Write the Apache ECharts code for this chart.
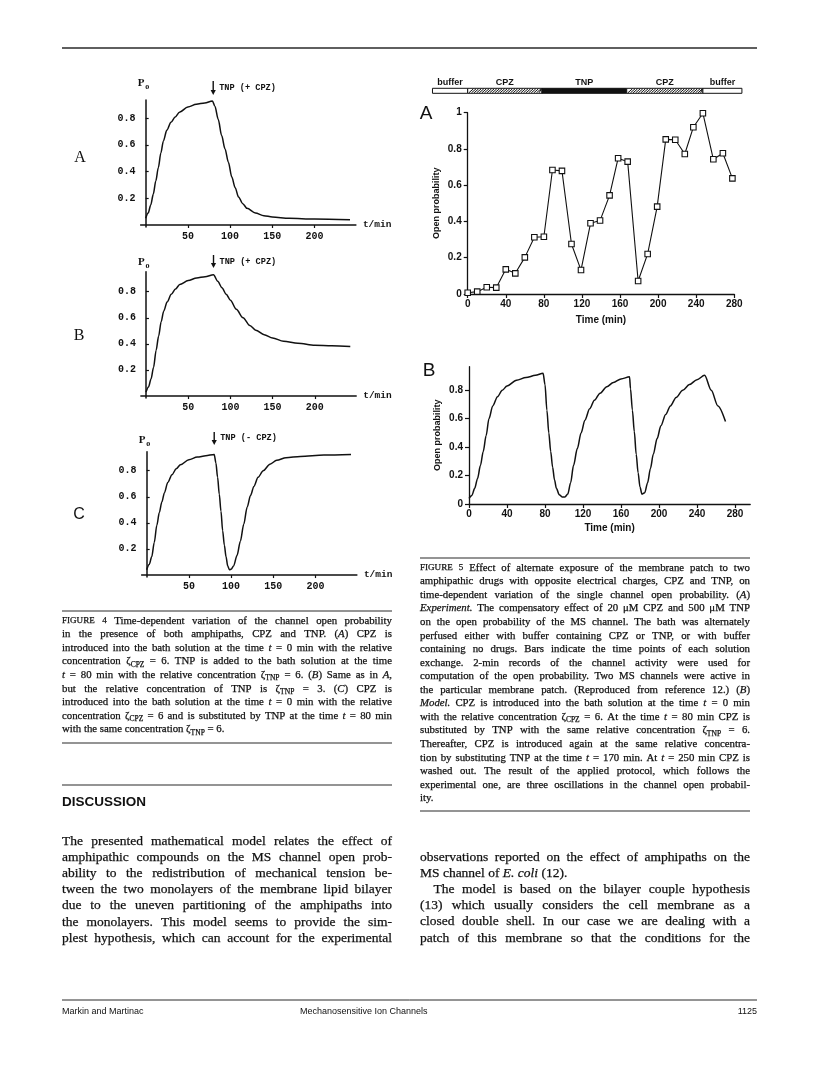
<!DOCTYPE html>
<html><head><meta charset="utf-8">
<script src="https://cdn.jsdelivr.net/npm/echarts@6/dist/echarts.min.js"></script>
<style>html,body{margin:0;padding:0;background:#fff}#c{width:816px;height:1066px}</style>
</head><body><div id="c"></div>
<script>
// ---------------- DATA ----------------
// Figure 4 (model, t in min, open probability)
const fig4A_t = [0,3,6,9,12,15,18,21,25,30,35,40,50,60,70,79,82,86,90,94,98,102,106,110,115,120,130,140,150,170,200,242];
const fig4A_p = [0.05,0.09,0.15,0.23,0.33,0.43,0.54,0.63,0.71,0.77,0.81,0.845,0.885,0.905,0.915,0.93,0.89,0.79,0.67,0.57,0.47,0.36,0.28,0.21,0.16,0.125,0.09,0.07,0.06,0.05,0.045,0.04];
const fig4B_t = [0,3,6,9,12,15,18,21,25,30,35,40,50,60,70,80,85,90,95,100,107,115,123,130,140,150,163,180,200,220,242];
const fig4B_p = [0.03,0.07,0.13,0.22,0.35,0.46,0.57,0.65,0.72,0.78,0.82,0.855,0.885,0.905,0.915,0.93,0.88,0.83,0.78,0.735,0.665,0.6,0.54,0.505,0.47,0.445,0.42,0.405,0.39,0.385,0.38];
const fig4C_t = [0,3,6,9,12,15,18,21,25,30,35,40,50,60,70,80,82,84,86,88,90,92,94,96,98,100,103,107,111,115,119,123,127,132,138,146,154,165,182,210,242];
const fig4C_p = [0.04,0.08,0.14,0.25,0.38,0.48,0.56,0.63,0.71,0.77,0.815,0.845,0.885,0.905,0.915,0.925,0.86,0.75,0.62,0.49,0.34,0.23,0.14,0.07,0.04,0.045,0.07,0.15,0.26,0.39,0.52,0.61,0.68,0.75,0.80,0.85,0.88,0.90,0.91,0.92,0.925];
const fig4XTicks = [50,100,150,200];
const fig4YTicks = [0.2,0.4,0.6,0.8];
const fig4Arrows = ['TNP (+ CPZ)','TNP (+ CPZ)','TNP (- CPZ)'];
const fig4ArrowT = 80;

// Figure 5A (experiment)
const fig5A_t = [0,10,20,30,40,50,60,70,80,89,99,109,119,129,139,149,158,168,179,189,199,208,218,228,237,247,258,268,278];
const fig5A_p = [0.007,0.013,0.037,0.035,0.136,0.114,0.202,0.313,0.316,0.684,0.679,0.276,0.132,0.39,0.405,0.544,0.749,0.73,0.072,0.221,0.482,0.853,0.851,0.772,0.92,0.997,0.743,0.776,0.638];
// Figure 5B (model)
const fig5B_t = [0,3,6,9,12,15,18,21,25,30,35,40,50,60,70,78,80,82,84,86,88,90,92,95,98,101,104,107,110,114,118,122,127,132,138,145,152,160,169,170,172,174,176,178,180,182,185,188,191,194,198,202,207,212,218,225,232,240,248,255,262,270];
const fig5B_p = [0.04,0.06,0.11,0.18,0.27,0.37,0.48,0.60,0.69,0.755,0.80,0.83,0.87,0.89,0.905,0.92,0.84,0.66,0.50,0.37,0.26,0.17,0.11,0.065,0.05,0.05,0.07,0.15,0.27,0.39,0.5,0.59,0.67,0.73,0.78,0.825,0.855,0.88,0.895,0.81,0.66,0.51,0.35,0.22,0.12,0.07,0.08,0.15,0.25,0.35,0.46,0.55,0.63,0.69,0.75,0.80,0.84,0.875,0.905,0.80,0.69,0.58];
const fig5XTicks = [0,40,80,120,160,200,240,280];
const fig5AYTicks = [0,0.2,0.4,0.6,0.8,1];
const fig5BYTicks = [0,0.2,0.4,0.6,0.8];
// perfusion bar (time in min)
const barStart = [-37,0,78,167,247];
const barEnd   = [0,78,167,247,288];
const barKind  = [0,1,2,1,0];   // 0 buffer, 1 CPZ (hatched), 2 TNP (black)
const barLabels = ['buffer','CPZ','TNP','CPZ','buffer'];

// ---------------- TEXT ----------------
const cap4 = [
 '_c{FIGURE 4}  Time-dependent variation of the channel open probability',
 'in the presence of both amphipaths, CPZ and TNP. (_i{A}) CPZ is',
 'introduced into the bath solution at the time _i{t} = 0 min with the relative',
 'concentration ζ_s{CPZ} = 6. TNP is added to the bath solution at the time',
 '_i{t} = 80 min with the relative concentration ζ_s{TNP} = 6. (_i{B}) Same as in _i{A},',
 'but the relative concentration of TNP is ζ_s{TNP} = 3. (_i{C}) CPZ is',
 'introduced into the bath solution at the time _i{t} = 0 min with the relative',
 'concentration ζ_s{CPZ} = 6 and is substituted by TNP at the time _i{t} = 80 min',
 'with the same concentration ζ_s{TNP} = 6.$'
];
const cap5 = [
 '_c{FIGURE 5}  Effect of alternate exposure of the membrane patch to two',
 'amphipathic drugs with opposite electrical charges, CPZ and TNP, on',
 'time-dependent variation of the single channel open probability. (_i{A})',
 '_i{Experiment.} The compensatory effect of 20 μM CPZ and 500 μM TNP',
 'on the open probability of the MS channel. The bath was alternately',
 'perfused either with buffer containing CPZ or TNP, or with buffer',
 'containing no drugs. Bars indicate the time points of each solution',
 'exchange. 2-min records of the channel activity were used for',
 'computation of the open probability. Two MS channels were active in',
 'the particular membrane patch. (Reproduced from reference 12.) (_i{B})',
 '_i{Model.} CPZ is introduced into the bath solution at the time _i{t} = 0 min',
 'with the relative concentration ζ_s{CPZ} = 6. At the time _i{t} = 80 min CPZ is',
 'substituted by TNP with the same relative concentration ζ_s{TNP} = 6.',
 'Thereafter, CPZ is introduced again at the same relative concentra-',
 'tion by substituting TNP at the time _i{t} = 170 min. At _i{t} = 250 min CPZ is',
 'washed out. The result of the applied protocol, which follows the',
 'experimental one, are three oscillations in the channel open probabil-',
 'ity.$'
];
const bodyL = [
 'The presented mathematical model relates the effect of',
 'amphipathic compounds on the MS channel open prob-',
 'ability to the redistribution of mechanical tension be-',
 'tween the two monolayers of the membrane lipid bilayer',
 'due to the uneven partitioning of the amphipaths into',
 'the monolayers. This model seems to provide the sim-',
 'plest hypothesis, which can account for the experimental'
];
const bodyR = [
 'observations reported on the effect of amphipaths on the',
 'MS channel of _i{E. coli} (12).$',
 '  The model is based on the bilayer couple hypothesis',
 '(13) which usually considers the cell membrane as a',
 'closed double shell. In our case we are dealing with a',
 'patch of this membrane so that the conditions for the'
];

// ---------------- STYLE / LAYOUT ----------------
const INK = '#111';
const SERIF = "'Liberation Serif','Times New Roman',serif";
const SANS = "'Liberation Sans',Arial,sans-serif";
const MONO = "'Liberation Mono','Courier New',monospace";
const pairs = (t,p) => t.map((v,i)=>[v,p[i]]);

const chart = echarts.init(document.getElementById('c'), null, {renderer:'canvas', width:816, height:1066});

const f4grids = [
  {left:140.6, top:100, width:215.3, height:127, ymax:0.937},
  {left:140.9, top:271.7, width:215.3, height:126.3, ymax:0.953},
  {left:141.6, top:451.7, width:215.3, height:125.3, ymax:0.946}
];
const monoLab = {fontFamily:MONO, fontWeight:'bold', fontSize:10, color:INK};
const sansLab = {fontFamily:SANS, fontWeight:'bold', fontSize:10, color:INK};
const axLine = {show:true, onZero:true, lineStyle:{color:INK, width:1.5}};

const grids = [], xAxes = [], yAxes = [];
f4grids.forEach((g,i)=>{
  grids.push({left:g.left, top:g.top, width:g.width, height:g.height, containLabel:false, outerBoundsMode:'none'});
  xAxes.push({type:'value', gridIndex:i, min:-6, max:249, axisLine:axLine,
    axisTick:{show:true, customValues:fig4XTicks, length:3, lineStyle:{color:INK,width:1.2}},
    axisLabel:Object.assign({customValues:fig4XTicks, margin:4}, monoLab),
    splitLine:{show:false},
    name:'t/min', nameLocation:'end', nameGap:7, nameTextStyle:{fontFamily:MONO, fontWeight:'bold', fontSize:9.5, color:INK}});
  yAxes.push({type:'value', gridIndex:i, min:-0.015, max:g.ymax, axisLine:axLine,
    axisTick:{show:true, inside:true, customValues:fig4YTicks, length:3, lineStyle:{color:INK,width:1.2}},
    axisLabel:Object.assign({customValues:fig4YTicks, margin:5, formatter:v=>v.toFixed(1)}, monoLab),
    splitLine:{show:false}});
});
// bar grid (index 3)
grids.push({left:467.7, top:88.3, width:266.6, height:5, containLabel:false, outerBoundsMode:'none'});
xAxes.push({type:'value', gridIndex:3, min:0, max:280, show:false});
yAxes.push({type:'value', gridIndex:3, min:0, max:1, show:false});
// fig5A (index 4)
const f5x = (gi,max)=>({type:'value', gridIndex:gi, min:0, max:max,
  axisLine:{show:true, onZero:false, lineStyle:{color:INK,width:1.3}},
  axisTick:{show:true, customValues:fig5XTicks, length:4, lineStyle:{color:INK,width:1.2}},
  axisLabel:Object.assign({customValues:fig5XTicks, margin:5}, sansLab),
  splitLine:{show:false},
  name:'Time (min)', nameLocation:'middle', nameGap:21, nameTextStyle:{fontFamily:SANS, fontWeight:'bold', fontSize:10, color:INK}});
const f5y = (gi,max,ticks)=>({type:'value', gridIndex:gi, min:0, max:max,
  axisLine:{show:true, onZero:false, lineStyle:{color:INK,width:1.3}},
  axisTick:{show:true, customValues:ticks, length:4, lineStyle:{color:INK,width:1.2}},
  axisLabel:Object.assign({customValues:ticks, margin:6, formatter:v=>(v===0?'0':(v===1?'1':v.toFixed(1)))}, sansLab),
  splitLine:{show:false},
  name:'Open probability', nameLocation:'middle', nameRotate:90, nameGap:27, nameTextStyle:{fontFamily:SANS, fontWeight:'bold', fontSize:9, color:INK}});
grids.push({left:467.7, top:112.7, width:266.6, height:181.3, containLabel:false, outerBoundsMode:'none'});
xAxes.push(f5x(4,280)); yAxes.push(f5y(4,1,fig5AYTicks));
// fig5B (index 5)
grids.push({left:469, top:366.7, width:281.2, height:137.3, containLabel:false, outerBoundsMode:'none'});
const x5b = f5x(5,296); x5b.nameGap = 19;
xAxes.push(x5b); yAxes.push(f5y(5,0.966,fig5BYTicks));

const lineS = (gi,data)=>({type:'line', xAxisIndex:gi, yAxisIndex:gi, data, showSymbol:false, smooth:0.3, smoothMonotone:'x',
  lineStyle:{color:INK, width:1.5}, silent:true});

const series = [
  lineS(0, pairs(fig4A_t, fig4A_p)),
  lineS(1, pairs(fig4B_t, fig4B_p)),
  lineS(2, pairs(fig4C_t, fig4C_p)),
  {type:'custom', xAxisIndex:3, yAxisIndex:3, clip:false, silent:true,
   data: barStart.map((s,i)=>[s, barEnd[i], barKind[i]]),
   renderItem: function(params, api){
     const s = api.value(0), e = api.value(1), k = api.value(2);
     const p0 = api.coord([s,1]), p1 = api.coord([e,0]);
     const x0=p0[0], y0=p0[1], x1=p1[0], y1=p1[1], h=y1-y0;
     const ch = [{type:'rect', shape:{x:x0,y:y0,width:x1-x0,height:h},
       style:{fill:k===2?INK:'#fff', stroke:INK, lineWidth:1}}];
     if(k===1){
       for(let x=x0+1.2; x<x1-1; x+=2.6){
         const xe = Math.min(x+h*0.9, x1-0.5);
         ch.push({type:'line', shape:{x1:x, y1:y1-0.5, x2:xe, y2:y0+0.5}, style:{stroke:INK, lineWidth:1}});
       }
     }
     ch.push({type:'text', style:{text:barLabels[params.dataIndex], x:(x0+x1)/2, y:y0-1.5,
       align:'center', textAlign:'center', verticalAlign:'bottom', textVerticalAlign:'bottom',
       font:"bold 9px "+SANS, fill:INK}});
     return {type:'group', children:ch};
   }},
  {type:'line', xAxisIndex:4, yAxisIndex:4, data:pairs(fig5A_t, fig5A_p), symbol:'rect', symbolSize:5.5, showSymbol:true,
   itemStyle:{color:'#fff', borderColor:INK, borderWidth:1.1}, lineStyle:{color:INK, width:1.1}, silent:true, z:3},
  lineS(5, pairs(fig5B_t, fig5B_p))
];

chart.setOption({animation:false, backgroundColor:'#fff', grid:grids, xAxis:xAxes, yAxis:yAxes, series});

// ---------------- PAGE TEXT (graphic) ----------------
const mctx = document.createElement('canvas').getContext('2d');
function tw(t,f){ mctx.font=f; return mctx.measureText(t).width; }
function parseRuns(s){ const out=[]; const re=/_([isc])\{([^}]*)\}/g; let last=0,m;
  while((m=re.exec(s))){ if(m.index>last) out.push({t:s.slice(last,m.index),k:'n'}); out.push({t:m[2],k:m[1]}); last=re.lastIndex; }
  if(last<s.length) out.push({t:s.slice(last),k:'n'}); return out; }
function pieceFont(k,size){
  if(k==='i') return `italic normal ${size}px ${SERIF}`;
  if(k==='s') return `normal normal ${(size*0.7).toFixed(2)}px ${SERIF}`;
  if(k==='c') return `normal normal ${(size*0.84).toFixed(2)}px ${SERIF}`;
  return `normal normal ${size}px ${SERIF}`;
}
function T(x,y,text,font,align,va,extra){
  return Object.assign({type:'text', x, y, silent:true, style:{text, font, fill:INK,
    align:align||'left', textAlign:align||'left', verticalAlign:va||'middle', textVerticalAlign:va||'middle'}}, extra||{});
}
function block(lines, x, y0, lh, width, size, els){
  lines.forEach((raw,li)=>{
    let s=raw, just=true, indent=0;
    if(s.endsWith('$')){ just=false; s=s.slice(0,-1); }
    const m=s.match(/^ +/); if(m){ indent=size*1.0; s=s.slice(m[0].length); }
    const words=[]; let cur=[];
    parseRuns(s).forEach(r=>{ r.t.split(' ').forEach((p,pi)=>{ if(pi>0){ if(cur.length) words.push(cur); cur=[]; } if(p) cur.push({t:p,k:r.k}); }); });
    if(cur.length) words.push(cur);
    words.forEach(w=>{ w.forEach(p=>{ p.f=pieceFont(p.k,size); p.w=tw(p.t,p.f); }); w.w=w.reduce((a,p)=>a+p.w,0); });
    const total=words.reduce((a,w)=>a+w.w,0), n=words.length, avail=width-indent;
    const sp=tw(' ',pieceFont('n',size));
    let gap=sp, sx=1;
    if(just && n>1){ gap=(avail-total)/(n-1); if(gap<sp*0.5){ gap=sp*0.5; sx=(avail-gap*(n-1))/total; } }
    else if(total+sp*(n-1)>avail){ sx=(avail-sp*(n-1))/total; }
    let cx=x+indent; const y=y0+li*lh;
    words.forEach(w=>{ w.forEach(p=>{
      els.push({type:'text', x:cx, y:y+(p.k==='s'?size*0.3:0), scaleX:sx, silent:true,
        style:{text:p.t, font:p.f, fill:INK, stroke:INK, lineWidth:0.25, align:'left', textAlign:'left', verticalAlign:'middle', textVerticalAlign:'middle'}});
      cx+=p.w*sx; }); cx+=gap; });
  });
}
function rule(x1,x2,y,w){ return {type:'line', silent:true, shape:{x1,y1:y,x2,y2:y}, style:{stroke:'#2a2a2a', lineWidth:w||1}}; }

const els = [];
els.push(rule(62,757,48,1.4));
const f4letters = [['A',80,158,SERIF],['B',79,336,SERIF],['C',79,515,SANS]];
f4letters.forEach(l=>els.push(T(l[1],l[2],l[0],`normal 16px ${l[3]}`,'center')));
const f4ann = [{po:83, a0:81, a1:95, ty:88},{po:262, a0:255, a1:268, ty:262},{po:440, a0:432, a1:445, ty:438}];
f4ann.forEach((a,i)=>{
  const ax = chart.convertToPixel({gridIndex:i}, [fig4ArrowT, 0])[0];
  const x0 = chart.convertToPixel({gridIndex:i}, [0, 0])[0];
  els.push(T(x0-8, a.po, 'P', `bold 11px ${SERIF}`, 'left'));
  els.push(T(x0-0.5, a.po+3.5, 'o', `bold 8px ${SERIF}`, 'left'));
  els.push({type:'line', silent:true, shape:{x1:ax,y1:a.a0,x2:ax,y2:a.a1-3}, style:{stroke:INK, lineWidth:1.4}});
  els.push({type:'polygon', silent:true, shape:{points:[[ax-2.6,a.a1-5],[ax+2.6,a.a1-5],[ax,a.a1]]}, style:{fill:INK}});
  els.push(T(ax+6, a.ty, fig4Arrows[i], `bold 8.6px ${MONO}`, 'left'));
});
els.push(T(426,114,'A',`normal 19px ${SANS}`,'center'));
els.push(T(429,371,'B',`normal 19px ${SANS}`,'center'));
els.push(rule(62,392,611,1.2));
block(cap4, 62, 621, 13.55, 330, 10.8, els);
els.push(rule(62,392,743,1.2));
els.push(rule(420,750,558,1.2));
block(cap5, 420, 568, 13.55, 330, 10.8, els);
els.push(rule(420,750,811,1.2));
els.push(rule(62,392,785,1.2));
els.push(T(62,802,'DISCUSSION',`bold 13.5px ${SANS}`,'left'));
block(bodyL, 62, 841, 16.2, 330, 13.5, els);
block(bodyR, 420, 857, 16.2, 330, 13.5, els);
els.push(rule(62,757,1000,1));
els.push(T(62,1012,'Markin and Martinac',`normal 9px ${SANS}`,'left'));
els.push(T(300,1012,'Mechanosensitive Ion Channels',`normal 9px ${SANS}`,'left'));
els.push(T(757,1012,'1125',`normal 9px ${SANS}`,'right'));

chart.setOption({graphic:{elements:els}});
</script>
</body></html>
